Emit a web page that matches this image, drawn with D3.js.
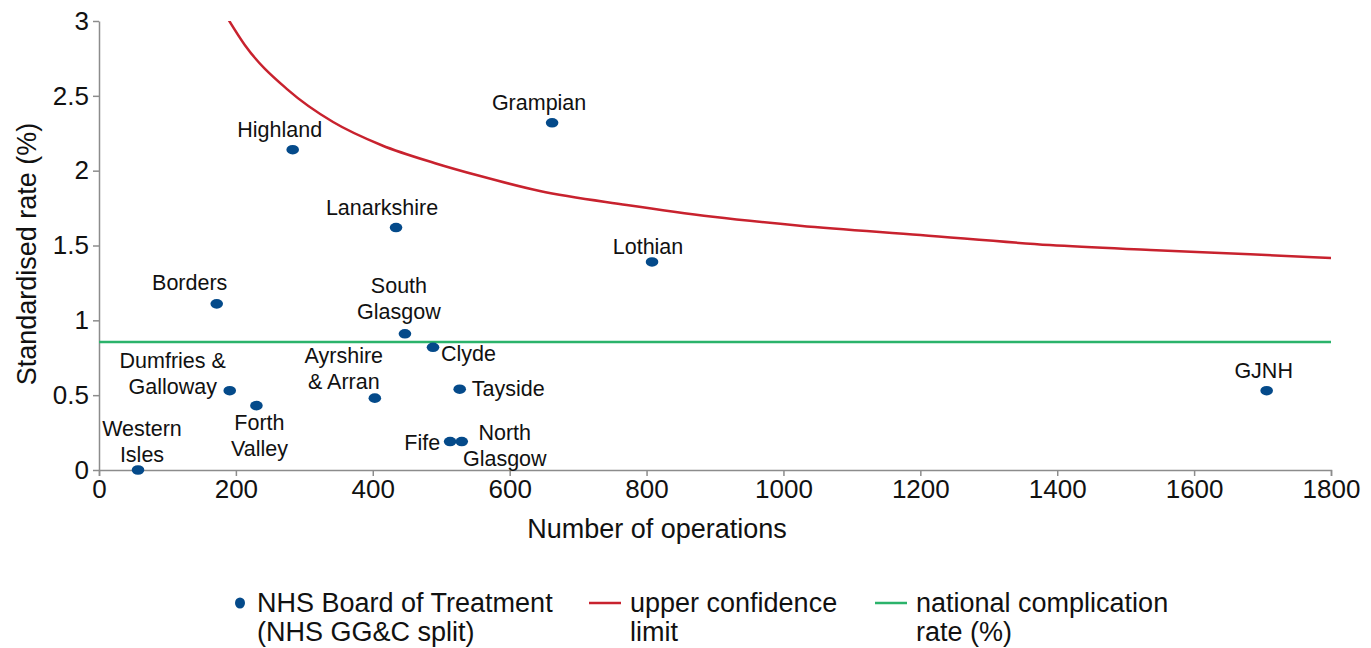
<!DOCTYPE html>
<html>
<head>
<meta charset="utf-8">
<script src="https://cdn.jsdelivr.net/npm/d3@7"></script>
<style>
    body { margin: 0; background: #fff; }
    svg { font-family: "Liberation Sans", Arial, sans-serif; }
    .axis path, .axis line { stroke: #8c8c8c; stroke-width: 1.5; }
    .axis text { fill: #111; font-size: 26px; }
    .point-label { font-size: 21.5px; fill: #111; }
    .legend text { font-size: 27px; fill: #111; }
</style>
</head>
<body>
<div id="chart"></div>
<script>
// NHS boards, number of operations and standardised complication rate (%)
const boards = ['Western Isles', 'Borders', 'Dumfries & Galloway', 'Forth Valley', 'Highland',
    'Ayrshire & Arran', 'Lanarkshire', 'South Glasgow', 'Clyde', 'Fife', 'North Glasgow',
    'Tayside', 'Grampian', 'Lothian', 'GJNH'];
const operations = [57, 172, 191, 230, 283, 403, 434, 447, 488, 513, 530, 527, 662, 808, 1706];
const rates = [0, 1.11, 0.53, 0.43, 2.14, 0.48, 1.62, 0.91, 0.82, 0.19, 0.19, 0.54, 2.32, 1.39, 0.53];

// Upper confidence limit (funnel)
const limitOps = [185, 213, 276, 342, 413, 491, 557, 644, 771, 897, 1024, 1200, 1389, 1536, 1682, 1800];
const limitRates = [3.04, 2.84, 2.54, 2.325, 2.17, 2.05, 1.964, 1.864, 1.771, 1.692, 1.632, 1.57, 1.503, 1.47, 1.441, 1.416];

// National complication rate (%)
const nationalRate = 0.855;

const xTicks = [0, 200, 400, 600, 800, 1000, 1200, 1400, 1600, 1800];
const yTicks = [0, 0.5, 1, 1.5, 2, 2.5, 3];

// Where each board's label sits relative to its dot
const labelLayout = {
    'Western Isles': { lines: ['Western', 'Isles'], dx: 4, dy: -34, anchor: 'middle' },
    'Borders': { lines: ['Borders'], dx: -27, dy: -14, anchor: 'middle' },
    'Dumfries & Galloway': { lines: ['Dumfries &', 'Galloway'], dx: -57, dy: -23, anchor: 'middle' },
    'Forth Valley': { lines: ['Forth', 'Valley'], dx: 3, dy: 24, anchor: 'middle' },
    'Highland': { lines: ['Highland'], dx: -13, dy: -13, anchor: 'middle' },
    'Ayrshire & Arran': { lines: ['Ayrshire', '& Arran'], dx: -31, dy: -35, anchor: 'middle' },
    'Lanarkshire': { lines: ['Lanarkshire'], dx: -14, dy: -13, anchor: 'middle' },
    'South Glasgow': { lines: ['South', 'Glasgow'], dx: -6, dy: -41, anchor: 'middle' },
    'Clyde': { lines: ['Clyde'], dx: 8, dy: 14, anchor: 'start' },
    'Fife': { lines: ['Fife'], dx: -10, dy: 8, anchor: 'end' },
    'North Glasgow': { lines: ['North', 'Glasgow'], dx: 43, dy: -2, anchor: 'middle' },
    'Tayside': { lines: ['Tayside'], dx: 12, dy: 7, anchor: 'start' },
    'Grampian': { lines: ['Grampian'], dx: -13, dy: -13, anchor: 'middle' },
    'Lothian': { lines: ['Lothian'], dx: -4, dy: -8, anchor: 'middle' },
    'GJNH': { lines: ['GJNH'], dx: -3, dy: -13, anchor: 'middle' }
};

const width = 1371;
const height = 648;
const margin = { top: 21, right: 40, bottom: 178, left: 99 };

const svg = d3.select('#chart')
    .append('svg')
    .attr('width', width)
    .attr('height', height);

const x = d3.scaleLinear().domain([0, 1800]).range([margin.left, width - margin.right]);
const y = d3.scaleLinear().domain([0, 3]).range([height - margin.bottom, margin.top]);

// Clip so the limit line stops at the top of the plot
svg.append('clipPath')
    .attr('id', 'plot-clip')
    .append('rect')
    .attr('x', margin.left)
    .attr('y', margin.top)
    .attr('width', x(1800) - margin.left)
    .attr('height', y(0) - margin.top);

// Axes
svg.append('g')
    .attr('class', 'axis')
    .attr('transform', `translate(0,${y(0)})`)
    .call(d3.axisBottom(x).tickValues(xTicks).tickFormat(d3.format('d')).tickSize(6).tickPadding(4).tickSizeOuter(6));

svg.append('g')
    .attr('class', 'axis')
    .attr('transform', `translate(${margin.left},0)`)
    .call(d3.axisLeft(y).tickValues(yTicks).tickFormat(d3.format('~g')).tickSize(6).tickPadding(4).tickSizeOuter(0));

svg.selectAll('.axis text').attr('font-family', null);

// Axis titles
svg.append('text')
    .attr('x', 657)
    .attr('y', 538)
    .attr('text-anchor', 'middle')
    .attr('font-size', 27)
    .attr('fill', '#111')
    .text('Number of operations');

svg.append('text')
    .attr('transform', 'translate(36,254) rotate(-90)')
    .attr('text-anchor', 'middle')
    .attr('font-size', 27)
    .attr('fill', '#111')
    .text('Standardised rate (%)');

// National rate line
svg.append('line')
    .attr('x1', x(0))
    .attr('x2', x(1800))
    .attr('y1', y(nationalRate))
    .attr('y2', y(nationalRate))
    .style('stroke', '#2bb36b')
    .style('stroke-width', 2.5);

// Upper confidence limit
const limitLine = d3.line()
    .curve(d3.curveMonotoneX)
    .x(i => x(limitOps[i]))
    .y(i => y(limitRates[i]));

svg.append('path')
    .attr('clip-path', 'url(#plot-clip)')
    .attr('d', limitLine(d3.range(limitOps.length)))
    .style('fill', 'none')
    .style('stroke', '#c8222e')
    .style('stroke-width', 2.5);

// Board dots
const idx = d3.range(boards.length);

svg.append('g')
    .selectAll('ellipse')
    .data(idx)
    .enter()
    .append('ellipse')
    .attr('cx', i => x(operations[i]))
    .attr('cy', i => y(rates[i]))
    .attr('rx', 6.3)
    .attr('ry', 4.8)
    .style('fill', '#044a8a');

// Board labels
const labels = svg.append('g')
    .selectAll('text')
    .data(idx)
    .enter()
    .append('text')
    .attr('class', 'point-label')
    .attr('text-anchor', i => labelLayout[boards[i]].anchor)
    .attr('x', i => x(operations[i]) + labelLayout[boards[i]].dx)
    .attr('y', i => y(rates[i]) + labelLayout[boards[i]].dy);

labels.each(function(i) {
    const lay = labelLayout[boards[i]];
    const el = d3.select(this);
    lay.lines.forEach((line, k) => {
        el.append('tspan')
            .attr('x', x(operations[i]) + lay.dx)
            .attr('dy', k === 0 ? 0 : 26)
            .text(line);
    });
});

// Legend
const legend = svg.append('g').attr('class', 'legend');

legend.append('ellipse')
    .attr('cx', 240).attr('cy', 603)
    .attr('rx', 5).attr('ry', 5.5)
    .style('fill', '#044a8a');

legend.append('text').attr('x', 257).attr('y', 612).text('NHS Board of Treatment');
legend.append('text').attr('x', 257).attr('y', 641).text('(NHS GG&C split)');

legend.append('line')
    .attr('x1', 589).attr('x2', 621).attr('y1', 603).attr('y2', 603)
    .style('stroke', '#c8222e').style('stroke-width', 2.5);
legend.append('text').attr('x', 630).attr('y', 612).text('upper confidence');
legend.append('text').attr('x', 630).attr('y', 641).text('limit');

legend.append('line')
    .attr('x1', 875).attr('x2', 907).attr('y1', 603).attr('y2', 603)
    .style('stroke', '#2bb36b').style('stroke-width', 2.5);
legend.append('text').attr('x', 916).attr('y', 612).text('national complication');
legend.append('text').attr('x', 916).attr('y', 641).text('rate (%)');
</script>
</body>
</html>
